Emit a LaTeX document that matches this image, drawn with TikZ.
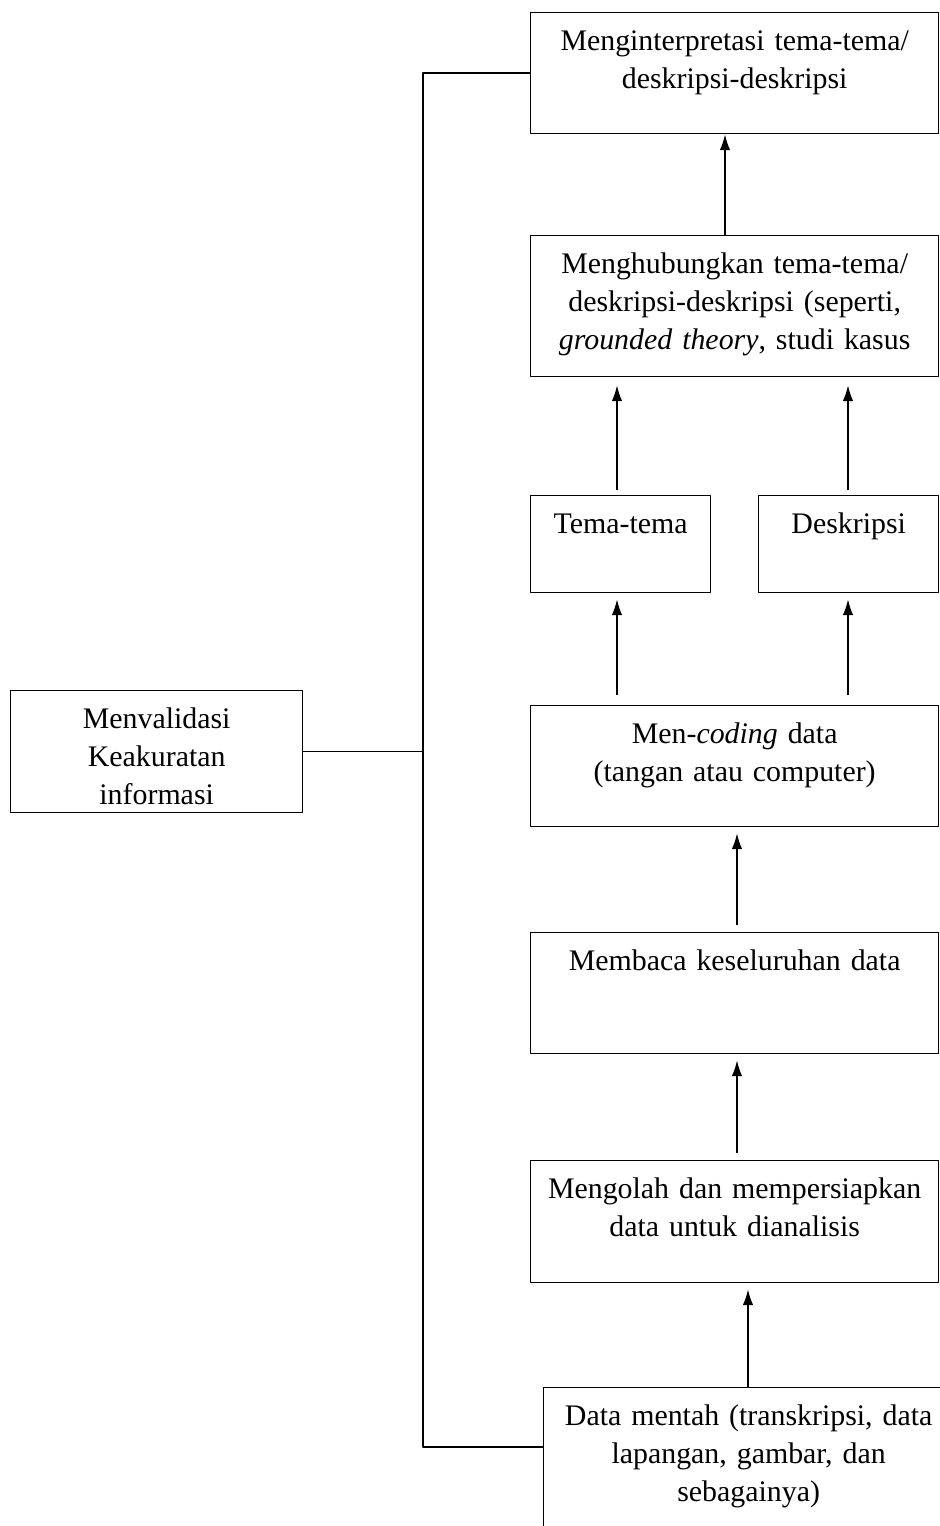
\documentclass[tikz,border=0pt]{standalone}
\usepackage{fontspec}
\setmainfont{Liberation Serif}
\usetikzlibrary{arrows.meta}
\begin{document}
\begin{tikzpicture}[x=0.02cm, y=-0.02cm, font=\fontsize{17}{21.6}\selectfont, line join=round, line width=0.8pt, >={Latex[length=9pt,width=6pt]},
	box/.style={draw, anchor=north west, align=center, inner sep=0pt, text height=0.76cm}]
			\def\wfull{8.16cm} \def\wsmall{3.6cm}
			\def\hnorm{1.66cm}  % tinggi kotak
			\useasboundingbox (0,0) rectangle (940,1526);
			\clip (0,0) rectangle (940,1526);
			\node[box, text width=\wfull, text depth=\hnorm] (interp) at (530,12) {Menginterpretasi tema-tema/\\ deskripsi-deskripsi};
			\node[box, text width=\wfull, text depth=2.06cm] (hub) at (530,235) {Menghubungkan tema-tema/\\ deskripsi-deskripsi (seperti,\\ \textit{grounded theory}, studi kasus};
			\node[box, text width=\wsmall, text depth=1.18cm] (tema) at (530,495) {Tema-tema};
			\node[box, text width=\wsmall, text depth=1.18cm] (desk) at (758,495) {Deskripsi};
			\node[box, text width=\wfull, text depth=\hnorm] (coding) at (530,705) {Men-\textit{coding} data\\ (tangan atau computer)};
			\node[box, text width=5.84cm, text depth=1.68cm] (valid) at (10,690) {Menvalidasi\\ Keakuratan\\ informasi};
			\node[box, text width=\wfull, text depth=\hnorm] (baca) at (530,932) {Membaca keseluruhan data};
			\node[box, text width=\wfull, text depth=1.68cm] (olah) at (530,1160) {Mengolah dan mempersiapkan\\ data untuk dianalisis};
			\node[box, text width=8.2cm, text depth=2.84cm] (data) at (543,1387) {Data mentah (transkripsi, data\\ lapangan, gambar, dan\\ sebagainya)};
			% panah ke atas
			\draw[->] (data.north -| 748,0) -- ([yshift=-0.12cm]olah.south -| 748,0);
			\draw[->] ([yshift=0.14cm]olah.north -| 737,0) -- ([yshift=-0.12cm]baca.south -| 737,0);
			\draw[->] ([yshift=0.14cm]baca.north -| 737,0) -- ([yshift=-0.12cm]coding.south -| 737,0);
			\draw[->] ([yshift=0.2cm]coding.north -| 617,0) -- ([yshift=-0.12cm]tema.south -| 617,0);
			\draw[->] ([yshift=0.2cm]coding.north -| 848,0) -- ([yshift=-0.12cm]desk.south -| 848,0);
			\draw[->] ([yshift=0.1cm]tema.north -| 617,0) -- ([yshift=-0.16cm]hub.south -| 617,0);
			\draw[->] ([yshift=0.1cm]desk.north -| 848,0) -- ([yshift=-0.16cm]hub.south -| 848,0);
			\draw[->] (hub.north -| 725,0) -- (interp.south -| 725,0);
			% garis validasi
			\coordinate (bus) at (423,0);
			\coordinate (datalink) at ([yshift=-1.2cm]data.north west);
			\draw (interp.west) -| (bus |- datalink) -- (datalink);
			\draw (valid.east) -- (valid.east -| bus);
		\end{tikzpicture}
\end{document}
